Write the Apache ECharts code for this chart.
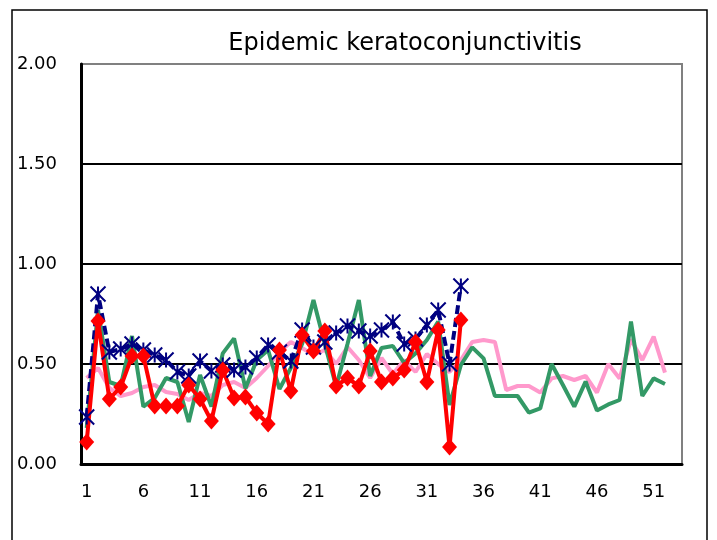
<!DOCTYPE html>
<html>
<head>
<meta charset="utf-8">
<script src="https://cdn.jsdelivr.net/npm/echarts@6/dist/echarts.min.js"></script>
<style>
  html, body { margin: 0; padding: 0; background: #fff; }
  #chart { width: 717px; height: 540px; }
</style>
</head>
<body>
<div id="chart"></div>
<script>
// week numbers on the x axis
const weeks = Array.from({ length: 53 }, (_, i) => String(i + 1));

// four seasons, values per week
const pinkValues = [0.43, 0.48, 0.38, 0.34, 0.355, 0.385, 0.395, 0.36, 0.35, 0.32,
  0.355, 0.34, 0.395, 0.41, 0.38, 0.43, 0.49, 0.56, 0.61, 0.58,
  0.545, 0.57, 0.5, 0.585, 0.52, 0.43, 0.53, 0.45, 0.52, 0.46,
  0.55, 0.5, 0.46, 0.52, 0.61, 0.62, 0.61, 0.37, 0.39, 0.39,
  0.357, 0.428, 0.44, 0.42, 0.44, 0.357, 0.5, 0.428, 0.623, 0.52,
  0.637, 0.457];
const greenValues = [0.18, 0.77, 0.41, 0.39, 0.64, 0.287, 0.33, 0.43, 0.41, 0.21,
  0.445, 0.287, 0.553, 0.628, 0.378, 0.52, 0.57, 0.375, 0.48, 0.6,
  0.82, 0.6, 0.387, 0.6, 0.82, 0.44, 0.58, 0.59, 0.505, 0.553,
  0.62, 0.712, 0.295, 0.495, 0.583, 0.528, 0.34, 0.34, 0.34, 0.257,
  0.278, 0.5, 0.395, 0.287, 0.412, 0.267, 0.298, 0.32, 0.712, 0.34,
  0.428, 0.40];
const blueValues = [0.235, 0.85, 0.56, 0.575, 0.6, 0.57, 0.545, 0.52, 0.46, 0.44,
  0.515, 0.465, 0.495, 0.47, 0.485, 0.53, 0.595, 0.56, 0.515, 0.67,
  0.585, 0.61, 0.655, 0.69, 0.665, 0.64, 0.67, 0.71, 0.6, 0.625,
  0.695, 0.77, 0.5, 0.89];
const redValues = [0.11, 0.715, 0.325, 0.385, 0.54, 0.54, 0.29, 0.29, 0.29, 0.395,
  0.325, 0.215, 0.47, 0.33, 0.335, 0.255, 0.2, 0.57, 0.365, 0.645,
  0.565, 0.665, 0.39, 0.43, 0.39, 0.565, 0.41, 0.43, 0.47, 0.61,
  0.41, 0.67, 0.085, 0.72];

const yTicks = [0, 0.5, 1, 1.5, 2];

const chart = echarts.init(document.getElementById("chart"));

// Excel style star marker: an X with a vertical bar
const starPath = "path://M0,0L10,10M10,0L0,10M5,0L5,10";

const option = {
  animation: false,
  backgroundColor: "#fff",
  textStyle: { fontFamily: "DejaVu Sans" },
  title: {
    text: "Epidemic keratoconjunctivitis",
    left: 400,
    top: 27,
    textAlign: "center",
    textStyle: { fontFamily: "DejaVu Sans", fontSize: 24, fontWeight: "normal", color: "#000" },
  },
  graphic: [
    {
      type: "rect",
      shape: { x: 12, y: 10, width: 695, height: 560 },
      style: { fill: null, stroke: "#000", lineWidth: 1.5 },
      silent: true,
    },
  ],
  grid: {
    left: 81,
    right: 35,
    top: 64,
    bottom: 76,
    show: true,
    borderColor: "#808080",
    borderWidth: 2,
  },
  xAxis: {
    type: "category",
    data: weeks,
    boundaryGap: true,
    axisLine: { lineStyle: { color: "#000", width: 3 } },
    axisTick: { inside: true, length: 6, interval: 4, lineStyle: { color: "#000", width: 2 } },
    axisLabel: { interval: 4, margin: 19, fontSize: 18, color: "#000" },
    splitLine: { show: false },
  },
  yAxis: {
    type: "value",
    min: yTicks[0],
    max: yTicks[yTicks.length - 1],
    interval: 0.5,
    axisLine: { show: true, lineStyle: { color: "#000", width: 3 } },
    axisTick: { show: false },
    axisLabel: {
      margin: 24,
      fontSize: 18,
      color: "#000",
      formatter: (v) => v.toFixed(2),
    },
    splitLine: {
      lineStyle: { color: ["#000", "#000", "#000", "#000", "#808080"], width: 2 },
    },
  },
  series: [
    {
      name: "pink",
      type: "line",
      data: pinkValues,
      symbol: "none",
      lineStyle: { color: "#ff99cc", width: 4 },
      itemStyle: { color: "#ff99cc" },
    },
    {
      name: "green",
      type: "line",
      data: greenValues,
      symbol: "none",
      lineStyle: { color: "#339966", width: 4 },
      itemStyle: { color: "#339966" },
    },
    {
      name: "blue",
      type: "line",
      data: blueValues,
      symbol: starPath,
      symbolSize: 15,
      showAllSymbol: true,
      lineStyle: { color: "#000080", width: 4, type: [9, 4] },
      itemStyle: { color: "#000080", borderColor: "#000080", borderWidth: 2 },
    },
    {
      name: "red",
      type: "line",
      data: redValues,
      symbol: "diamond",
      symbolSize: [15, 17],
      showAllSymbol: true,
      lineStyle: { color: "#ff0000", width: 4 },
      itemStyle: { color: "#ff0000", borderWidth: 0 },
    },
  ],
};

chart.setOption(option);
</script>
</body>
</html>
